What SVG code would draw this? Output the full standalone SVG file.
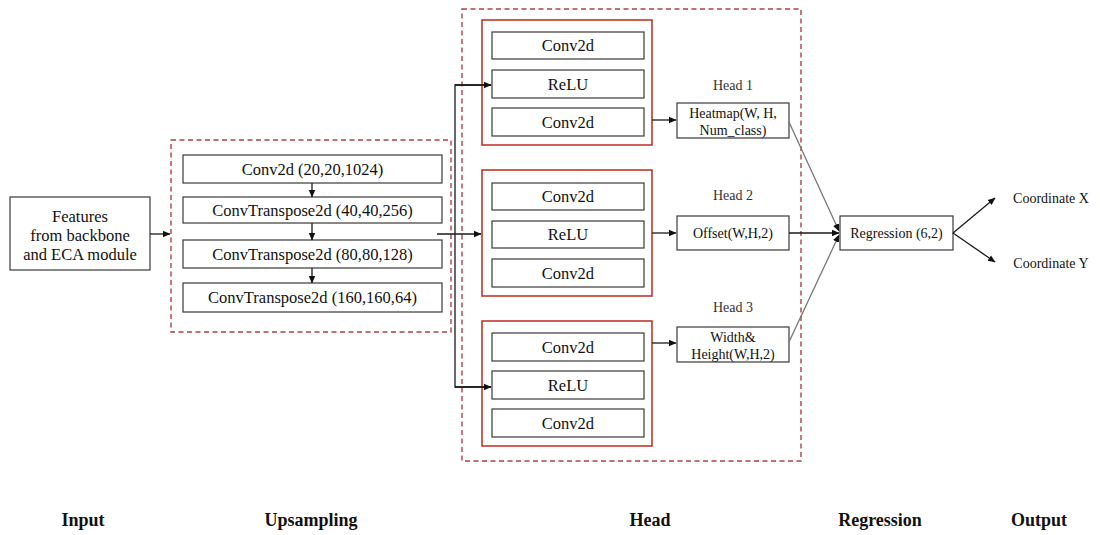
<svg xmlns="http://www.w3.org/2000/svg" width="1100" height="535" viewBox="0 0 1100 535">
  <style>
    .box { fill: #ffffff; stroke: #3a3a3a; stroke-width: 1.2; }
    .group { fill: none; stroke: #c0392b; stroke-width: 1.6; }
    .dash { fill: none; stroke: #b0404a; stroke-width: 1.4; stroke-dasharray: 5 3.5; }
    .t { font-family: "Liberation Serif", "Times New Roman", serif; fill: #111; text-anchor: middle; }
    .big { font-size: 16.5px; }
    .mid { font-size: 14px; }
    .lbl { font-size: 14px; fill: #333; }
    .stage { font-family: "Liberation Serif", "Times New Roman", serif; font-size: 18px; font-weight: bold; fill: #111; text-anchor: middle; }
    .line { fill: none; stroke: #1a1a1a; stroke-width: 1.3; }
    .gline { fill: none; stroke: #777777; stroke-width: 1.3; }
  </style>
  <defs>
    <marker id="arr" markerWidth="8" markerHeight="8" refX="7" refY="4" orient="auto" markerUnits="userSpaceOnUse">
      <path d="M0,0.8 L7.5,4 L0,7.2 Z" fill="#111"/>
    </marker>
  </defs>

  <rect width="1100" height="535" fill="#ffffff"/>

  <!-- stage frames -->
  <rect class="dash" x="171" y="140" width="280" height="192"/>
  <rect class="dash" x="462" y="9" width="339" height="452"/>

  <!-- input -->
  <g id="input">
    <rect class="box" x="10" y="197" width="140" height="73"/>
    <text class="t big" x="80" y="222">Features</text>
    <text class="t big" x="80" y="241">from backbone</text>
    <text class="t big" x="80" y="260">and ECA module</text>
  </g>

  <!-- upsampling layers -->
  <g id="up1">
    <rect class="box" x="183" y="155" width="259" height="28"/>
    <text class="t big" x="312.5" y="175">Conv2d (20,20,1024)</text>
  </g>
  <g id="up2">
    <rect class="box" x="183" y="197" width="259" height="26"/>
    <text class="t big" x="312.5" y="216">ConvTranspose2d (40,40,256)</text>
  </g>
  <g id="up3">
    <rect class="box" x="183" y="240" width="259" height="28"/>
    <text class="t big" x="312.5" y="260">ConvTranspose2d (80,80,128)</text>
  </g>
  <g id="up4">
    <rect class="box" x="183" y="283" width="259" height="29"/>
    <text class="t big" x="312.5" y="303">ConvTranspose2d (160,160,64)</text>
  </g>

  <!-- head 1 -->
  <g id="head1">
    <rect class="group" x="482" y="20" width="170" height="125"/>
    <rect class="box" x="492" y="32" width="152" height="27"/>
    <text class="t big" x="568" y="51">Conv2d</text>
    <rect class="box" x="492" y="70" width="152" height="28"/>
    <text class="t big" x="568" y="90">ReLU</text>
    <rect class="box" x="492" y="108" width="152" height="28"/>
    <text class="t big" x="568" y="128">Conv2d</text>
  </g>
  <!-- head 2 -->
  <g id="head2">
    <rect class="group" x="482" y="170" width="170" height="126"/>
    <rect class="box" x="492" y="183" width="152" height="27"/>
    <text class="t big" x="568" y="202">Conv2d</text>
    <rect class="box" x="492" y="221" width="152" height="27"/>
    <text class="t big" x="568" y="240">ReLU</text>
    <rect class="box" x="492" y="259" width="152" height="28"/>
    <text class="t big" x="568" y="279">Conv2d</text>
  </g>
  <!-- head 3 -->
  <g id="head3">
    <rect class="group" x="482" y="321" width="170" height="125"/>
    <rect class="box" x="492" y="333" width="152" height="28"/>
    <text class="t big" x="568" y="353">Conv2d</text>
    <rect class="box" x="492" y="371" width="152" height="28"/>
    <text class="t big" x="568" y="391">ReLU</text>
    <rect class="box" x="492" y="409" width="152" height="28"/>
    <text class="t big" x="568" y="429">Conv2d</text>
  </g>

  <!-- head outputs -->
  <g id="heatmap">
    <text class="t lbl" x="733" y="90">Head 1</text>
    <rect class="box" x="677" y="103" width="112" height="35"/>
    <text class="t mid" x="733" y="118">Heatmap(W, H,</text>
    <text class="t mid" x="733" y="135">Num_class)</text>
  </g>
  <g id="offset">
    <text class="t lbl" x="733" y="200">Head 2</text>
    <rect class="box" x="677" y="216" width="112" height="34"/>
    <text class="t mid" x="733" y="238">Offset(W,H,2)</text>
  </g>
  <g id="size">
    <text class="t lbl" x="733" y="312">Head 3</text>
    <rect class="box" x="677" y="327" width="112" height="35"/>
    <text class="t mid" x="733" y="342">Width&amp;</text>
    <text class="t mid" x="733" y="359">Height(W,H,2)</text>
  </g>

  <!-- regression -->
  <g id="regression">
    <rect class="box" x="840" y="216" width="113" height="34"/>
    <text class="t mid" x="896.5" y="238">Regression (6,2)</text>
  </g>

  <!-- outputs -->
  <g id="outputs">
    <text class="t mid" x="1051" y="203">Coordinate X</text>
    <text class="t mid" x="1051" y="268">Coordinate Y</text>
  </g>

  <!-- connectors -->
  <g id="connectors">
    <line class="line" x1="150" y1="234" x2="170" y2="234" marker-end="url(#arr)"/>
    <line class="line" x1="312" y1="183" x2="312" y2="197" marker-end="url(#arr)"/>
    <line class="line" x1="312" y1="223" x2="312" y2="240" marker-end="url(#arr)"/>
    <line class="line" x1="312" y1="268" x2="312" y2="283" marker-end="url(#arr)"/>
    <line class="line" x1="437" y1="234" x2="481" y2="234" marker-end="url(#arr)"/>
    <polyline class="line" points="491,85 455,85 455,387 491,387"/>
    <line class="line" x1="455" y1="85" x2="491" y2="85" marker-end="url(#arr)"/>
    <line class="line" x1="455" y1="387" x2="491" y2="387" marker-end="url(#arr)"/>
    <line class="line" x1="652" y1="120" x2="676" y2="120" marker-end="url(#arr)"/>
    <line class="line" x1="652" y1="233" x2="676" y2="233" marker-end="url(#arr)"/>
    <line class="line" x1="652" y1="343" x2="676" y2="343" marker-end="url(#arr)"/>
    <line class="gline" x1="789" y1="122" x2="839" y2="231" marker-end="url(#arr)"/>
    <line class="line" x1="789" y1="233" x2="839" y2="233" marker-end="url(#arr)"/>
    <line class="gline" x1="789" y1="342" x2="839" y2="235" marker-end="url(#arr)"/>
    <line class="line" x1="953" y1="233" x2="995" y2="198" marker-end="url(#arr)"/>
    <line class="line" x1="953" y1="233" x2="995" y2="262" marker-end="url(#arr)"/>
  </g>

  <!-- stage captions -->
  <text class="stage" x="83" y="526">Input</text>
  <text class="stage" x="311" y="526">Upsampling</text>
  <text class="stage" x="650" y="526">Head</text>
  <text class="stage" x="880" y="526">Regression</text>
  <text class="stage" x="1039" y="526">Output</text>
</svg>
